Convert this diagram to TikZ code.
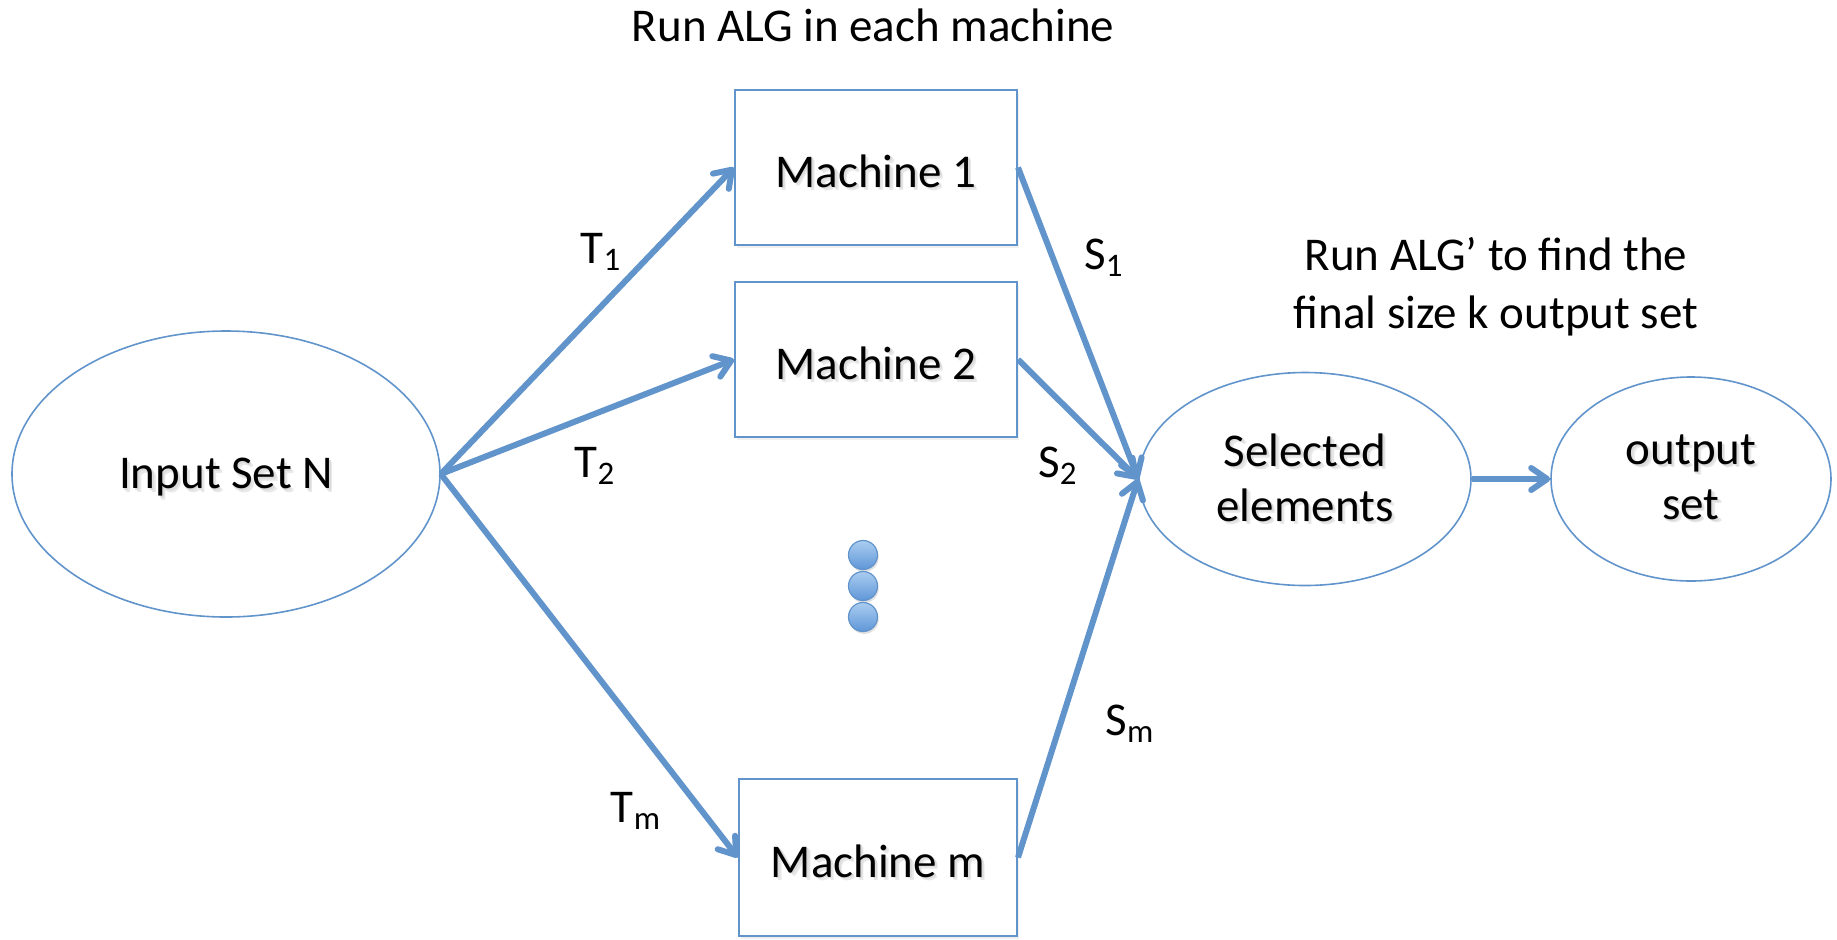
\documentclass[tikz,border=0pt]{standalone}
\usepackage{fontspec}
\setmainfont{Carlito}
\usetikzlibrary{arrows.meta,shapes.geometric,shadows}

\definecolor{linkblue}{RGB}{98,148,204}
\definecolor{ballhi}{RGB}{170,205,240}
\definecolor{balllo}{RGB}{95,150,215}

% text with a soft offset shadow (two faint layers)
\newcommand{\txtshadow}[1]{\leavevmode
  \rlap{\hspace{1.6pt}\raisebox{-1.6pt}{\textcolor{black!9}{#1}}}%
  \rlap{\hspace{0.8pt}\raisebox{-0.8pt}{\textcolor{black!14}{#1}}}#1}
% shift box text slightly below centre, keeping the box size
\newcommand{\lowered}[1]{\raisebox{-2.5pt}[\height][\depth]{#1}}

\tikzset{
  mbox/.style={draw=linkblue, line width=1pt, fill=white, rectangle,
    minimum width=141pt, minimum height=77.5pt, inner sep=0pt,
    drop shadow={opacity=0.12, shadow xshift=1pt, shadow yshift=-1.5pt}},
  oval/.style={draw=linkblue, line width=0.8pt, ellipse, inner sep=0pt,
    align=center},
  link/.style={draw=linkblue, line width=3pt,
    -{Straight Barb[length=8pt,width=11pt,round]}},
  lbl/.style={inner sep=0pt, align=center},
  ball/.style={circle, minimum size=14.5pt, inner sep=0pt, draw=linkblue,
    line width=0.6pt, top color=ballhi, bottom color=balllo,
    drop shadow={opacity=0.25, shadow xshift=0.6pt, shadow yshift=-1.2pt}},
  every node/.style={font=\fontsize{23.5pt}{28pt}\selectfont}
}

\begin{document}
\begin{tikzpicture}[x=0.5pt, y=-0.5pt]
  \useasboundingbox (0,0) rectangle (1837,939);

  % nodes
  \node[oval, minimum width=214pt, minimum height=143pt] (in) at (226,474)
    {\lowered{\txtshadow{Input Set N}}};
  \node[mbox] (m1) at (876,167.5) {\lowered{\txtshadow{Machine 1}}};
  \node[mbox] (m2) at (876,359.5) {\lowered{\txtshadow{Machine 2}}};
  \node[mbox, minimum width=139pt, minimum height=78.5pt] (mm) at (878,857.5)
    {\lowered{\txtshadow{Machine m}}};
  \node[oval, minimum width=166pt, minimum height=106.5pt] (sel) at (1305,479)
    {\txtshadow{Selected}\\[-0.5pt]\txtshadow{elements}};
  \node[oval, minimum width=140pt, minimum height=102pt] (out) at (1691,479)
    {\txtshadow{output}\\[-0.5pt]\txtshadow{set}};

  % vertical ellipsis between the machines
  \node[ball] (d1) at (863,555) {};
  \node[ball] (d2) at (863,586) {};
  \node[ball] (d3) at (863,617) {};

  % distribution of the input
  \draw[link] (in.east) -- (m1.west);
  \draw[link] (in.east) -- (m2.west);
  \draw[link] (in.east) -- (mm.west);

  % collection of partial solutions
  \draw[link] (m1.east) -- (sel.west);
  \draw[link] (m2.east) -- (sel.west);
  \draw[link] (mm.east) -- (sel.west);
  \draw[link] (sel.east) -- (out.west);

  % labels
  \node[lbl] (title) at (873,25) {Run ALG in each machine};
  \node[lbl] (note) at (1496,287) {Run ALG’ to find the\\[1pt]final size k output set};
  \node[lbl] (t1) at (601,252) {T\textsubscript{1}};
  \node[lbl] (t2) at (595,466) {T\textsubscript{2}};
  \node[lbl] (tm) at (636,811) {T\textsubscript{m}};
  \node[lbl] (s1) at (1104,258) {S\textsubscript{1}};
  \node[lbl] (s2) at (1058,466) {S\textsubscript{2}};
  \node[lbl] (sm) at (1130,724) {S\textsubscript{m}};
\end{tikzpicture}
\end{document}
